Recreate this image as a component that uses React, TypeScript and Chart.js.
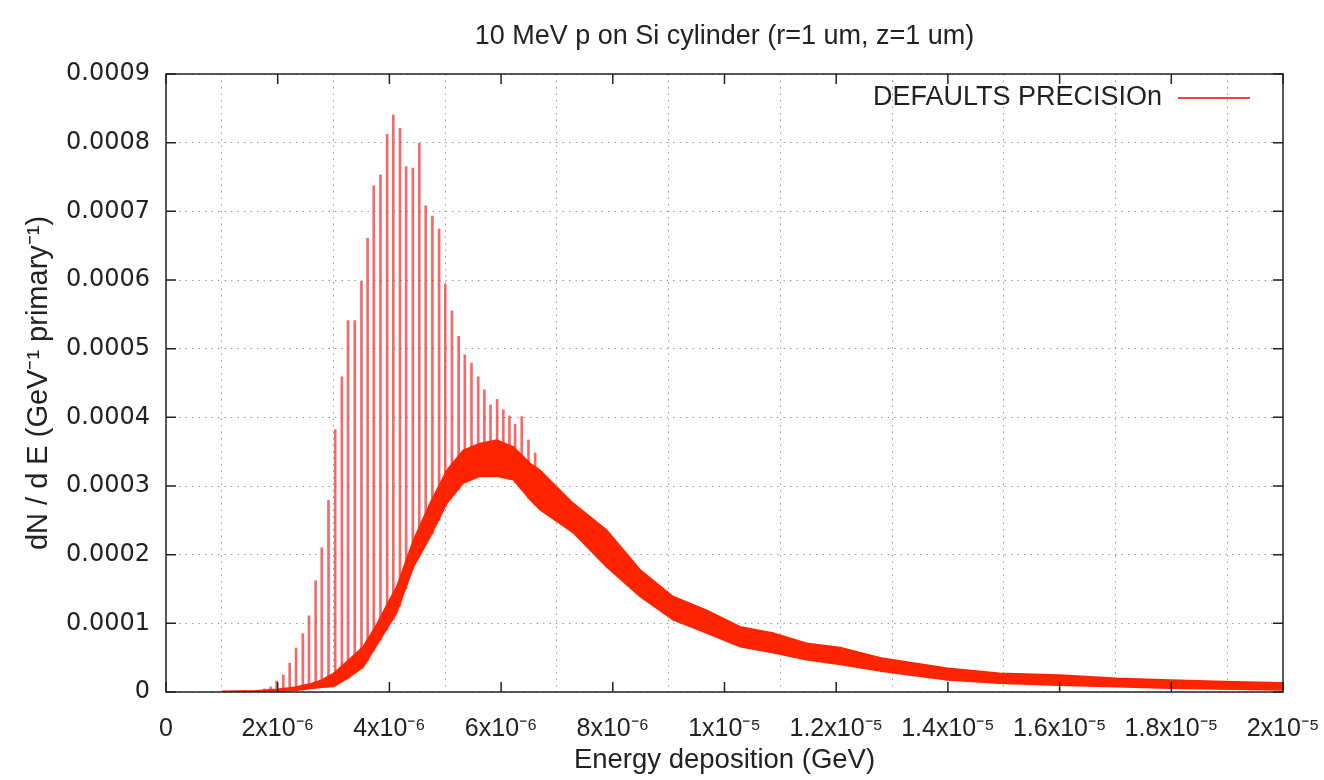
import React, { useEffect, useRef } from 'react';
import { Chart, registerables } from 'chart.js';

Chart.register(...registerables);

// ---------- text ----------
const chartTitle = '10 MeV p on Si cylinder (r=1 um, z=1 um)';
const seriesName = 'DEFAULTS PRECISIOn';
const xAxisTitle = 'Energy deposition (GeV)';
const yAxisTitle = 'dN / d E (GeV\u207B\u00B9 primary\u207B\u00B9)';

// ---------- ticks ----------
const xTickValues = [0, 2e-6, 4e-6, 6e-6, 8e-6, 1e-5, 1.2e-5, 1.4e-5, 1.6e-5, 1.8e-5, 2e-5];
const xTickLabels = [
  '0', '2x10\u207B\u2076', '4x10\u207B\u2076', '6x10\u207B\u2076', '8x10\u207B\u2076',
  '1x10\u207B\u2075', '1.2x10\u207B\u2075', '1.4x10\u207B\u2075', '1.6x10\u207B\u2075',
  '1.8x10\u207B\u2075', '2x10\u207B\u2075',
];
const yTickValues = [0, 0.0001, 0.0002, 0.0003, 0.0004, 0.0005, 0.0006, 0.0007, 0.0008, 0.0009];
const yTickLabels = ['0', '0.0001', '0.0002', '0.0003', '0.0004', '0.0005', '0.0006', '0.0007', '0.0008', '0.0009'];

// ---------- dense noisy body of the histogram (lower / upper envelope) ----------
const bandEnergy = [
  1.0e-6, 1.3e-6, 1.6e-6, 2.0e-6, 2.3e-6, 2.6e-6, 2.8e-6, 3.0e-6, 3.25e-6, 3.53e-6,
  3.75e-6, 4.0e-6, 4.13e-6, 4.43e-6, 4.73e-6, 5.03e-6, 5.32e-6, 5.62e-6, 5.92e-6, 6.22e-6,
  6.52e-6, 6.7e-6, 7.29e-6, 7.89e-6, 8.49e-6, 9.08e-6, 9.68e-6, 1.028e-5, 1.087e-5, 1.147e-5,
  1.207e-5, 1.284e-5, 1.4e-5, 1.493e-5, 1.6e-5, 1.702e-5, 1.798e-5, 1.911e-5, 2.0e-5,
];
const bandLow = [
  0, 0, 0, 0.5e-6, 2.0e-6, 5.0e-6, 7.0e-6, 8.0e-6, 2.0e-5, 3.6e-5,
  6.5e-5, 9.8e-5, 1.15e-4, 1.82e-4, 2.26e-4, 2.75e-4, 3.04e-4, 3.14e-4, 3.14e-4, 3.09e-4,
  2.80e-4, 2.65e-4, 2.32e-4, 1.82e-4, 1.39e-4, 1.05e-4, 8.6e-5, 6.6e-5, 5.7e-5, 4.7e-5,
  4.0e-5, 3.0e-5, 1.75e-5, 1.27e-5, 1.0e-5, 7.7e-6, 5.4e-6, 4.0e-6, 3.0e-6,
];
const bandHigh = [
  1.0e-6, 1.5e-6, 2.0e-6, 4.0e-6, 7.0e-6, 1.2e-5, 1.8e-5, 2.7e-5, 4.5e-5, 6.6e-5,
  9.5e-5, 1.34e-4, 1.53e-4, 2.21e-4, 2.75e-4, 3.23e-4, 3.52e-4, 3.62e-4, 3.67e-4, 3.57e-4,
  3.33e-4, 3.23e-4, 2.75e-4, 2.36e-4, 1.78e-4, 1.39e-4, 1.19e-4, 9.5e-5, 8.6e-5, 7.1e-5,
  6.5e-5, 4.9e-5, 3.45e-5, 2.72e-5, 2.48e-5, 2.0e-5, 1.75e-5, 1.5e-5, 1.35e-5,
];

// ---------- periodic spikes on the rising edge ----------
const spikeEnergy = [
  1.41e-6, 1.53e-6, 1.64e-6, 1.76e-6, 1.875e-6, 1.98e-6, 2.10e-6, 2.215e-6, 2.33e-6, 2.45e-6,
  2.56e-6, 2.68e-6, 2.79e-6, 2.91e-6, 3.03e-6, 3.15e-6, 3.26e-6, 3.38e-6, 3.50e-6, 3.61e-6,
  3.72e-6, 3.84e-6, 3.96e-6, 4.07e-6, 4.19e-6, 4.30e-6, 4.42e-6, 4.535e-6, 4.65e-6, 4.77e-6,
  4.89e-6, 5.00e-6, 5.12e-6, 5.24e-6, 5.35e-6, 5.47e-6, 5.59e-6, 5.70e-6, 5.81e-6, 5.93e-6,
  6.04e-6, 6.15e-6, 6.25e-6, 6.37e-6, 6.49e-6, 6.61e-6,
];
const spikeBase = [
  0, 0, 0, 0.2e-6, 0.3e-6, 0.5e-6, 1.0e-6, 1.5e-6, 2.0e-6, 3.5e-6,
  5.0e-6, 6.0e-6, 7.0e-6, 7.5e-6, 9.0e-6, 1.5e-5, 2.0e-5, 2.7e-5, 3.5e-5, 4.5e-5,
  6.0e-5, 7.5e-5, 9.0e-5, 1.05e-4, 1.25e-4, 1.5e-4, 1.8e-4, 2.0e-4, 2.15e-4, 2.3e-4,
  2.5e-4, 2.7e-4, 2.85e-4, 2.95e-4, 3.05e-4, 3.1e-4, 3.14e-4, 3.14e-4, 3.14e-4, 3.14e-4,
  3.12e-4, 3.1e-4, 3.05e-4, 2.95e-4, 2.82e-4, 2.72e-4,
];
const spikePeak = [
  2.0e-6, 1.0e-6, 2.0e-6, 4.4e-6, 7.3e-6, 1.6e-5, 2.5e-5, 4.2e-5, 6.4e-5, 8.5e-5,
  1.11e-4, 1.62e-4, 2.10e-4, 2.79e-4, 3.82e-4, 4.59e-4, 5.41e-4, 5.41e-4, 5.98e-4, 6.61e-4,
  7.37e-4, 7.53e-4, 8.12e-4, 8.40e-4, 8.21e-4, 7.65e-4, 7.63e-4, 7.99e-4, 7.08e-4, 6.93e-4,
  6.74e-4, 5.94e-4, 5.55e-4, 5.18e-4, 4.91e-4, 4.79e-4, 4.59e-4, 4.40e-4, 4.18e-4, 4.26e-4,
  4.11e-4, 4.02e-4, 3.90e-4, 4.01e-4, 3.67e-4, 3.48e-4,
];

const FONT = '"Liberation Sans", Arial, Helvetica, sans-serif';
const TICKFONT_Y = '"DejaVu Sans", "Liberation Sans", Arial, sans-serif';
const TEXT = '#222222';
const BAND = 'rgb(255,36,0)';
const SPIKE = 'rgba(240,55,55,0.75)';
const GRID = '#9a9a9a';

const gnuplotFrame = {
  id: 'gnuplotFrame',
  afterDatasetsDraw(chart: any) {
    const { ctx, chartArea } = chart;
    const { left, right, top, bottom } = chartArea;
    const xs = chart.scales.x;
    const ys = chart.scales.y;
    ctx.save();
    ctx.strokeStyle = TEXT;
    ctx.lineWidth = 1.5;
    ctx.strokeRect(left, top, right - left, bottom - top);
    const tl = 10;
    ctx.beginPath();
    xTickValues.forEach((v) => {
      const px = xs.getPixelForValue(v);
      ctx.moveTo(px, bottom);
      ctx.lineTo(px, bottom - tl);
      ctx.moveTo(px, top);
      ctx.lineTo(px, top + tl);
    });
    yTickValues.forEach((v) => {
      const py = ys.getPixelForValue(v);
      ctx.moveTo(left, py);
      ctx.lineTo(left + tl, py);
      ctx.moveTo(right, py);
      ctx.lineTo(right - tl, py);
    });
    ctx.stroke();

    // key (legend) inside the plot, top right, gnuplot style
    const ly = top + 24;
    ctx.font = `27px ${FONT}`;
    ctx.fillStyle = TEXT;
    ctx.textAlign = 'right';
    ctx.textBaseline = 'middle';
    ctx.fillText(seriesName, right - 121, ly);
    ctx.strokeStyle = 'rgb(238,70,70)';
    ctx.lineWidth = 2;
    ctx.beginPath();
    ctx.moveTo(right - 105, ly);
    ctx.lineTo(right - 33, ly);
    ctx.stroke();
    ctx.restore();
  },
};

export default function App() {
  const canvasRef = useRef<HTMLCanvasElement | null>(null);

  useEffect(() => {
    if (!canvasRef.current) return;
    Chart.defaults.font.family = FONT;
    Chart.defaults.color = TEXT;

    const chart = new Chart(canvasRef.current, {
      type: 'line',
      data: {
        datasets: [
          {
            type: 'bar',
            label: seriesName,
            data: spikeEnergy.map((x, i) => ({ x, y: [spikeBase[i], spikePeak[i]] })) as any,
            backgroundColor: SPIKE,
            borderWidth: 0,
            barThickness: 2,
            grouped: false,
            order: 3,
          } as any,
          {
            type: 'line',
            label: seriesName + ' (low)',
            data: bandEnergy.map((x, i) => ({ x, y: bandLow[i] })),
            borderColor: BAND,
            borderWidth: 1.5,
            pointRadius: 0,
            fill: false,
            tension: 0,
            order: 2,
          },
          {
            type: 'line',
            label: seriesName + ' (high)',
            data: bandEnergy.map((x, i) => ({ x, y: bandHigh[i] })),
            borderColor: BAND,
            backgroundColor: BAND,
            borderWidth: 1.5,
            pointRadius: 0,
            fill: '-1',
            tension: 0,
            order: 1,
          },
        ],
      },
      options: {
        animation: false,
        responsive: false,
        maintainAspectRatio: false,
        layout: { padding: { left: 0, right: 41, top: 0, bottom: 0 }, autoPadding: false } as any,
        plugins: {
          legend: { display: false },
          tooltip: { enabled: false },
          title: {
            display: true,
            text: chartTitle,
            fullSize: false,
            color: TEXT,
            font: { size: 27, weight: 'normal', family: FONT, lineHeight: 1.2 },
            padding: { top: 20, bottom: 21.6 },
          },
        },
        scales: {
          x: {
            type: 'linear',
            min: 0,
            max: 2e-5,
            offset: false,
            afterBuildTicks: (s: any) => {
              s.ticks = xTickValues.map((v) => ({ value: v }));
            },
            afterFit: (s: any) => {
              s.height = 88;
              s.paddingLeft = 0;
              s.paddingRight = 0;
            },
            ticks: {
              callback: (_v: any, i: number) => xTickLabels[i],
              padding: 22,
              autoSkip: false,
              maxRotation: 0,
              color: TEXT,
              font: { size: 25, family: FONT },
            },
            grid: { color: GRID, lineWidth: 1, drawTicks: false },
            border: { display: false, dash: [1.5, 5] },
            title: {
              display: true,
              text: xAxisTitle,
              color: TEXT,
              font: { size: 27.5, family: FONT },
              padding: { top: 0, bottom: 3 },
            },
          },
          y: {
            type: 'linear',
            min: 0,
            max: 0.0009,
            afterBuildTicks: (s: any) => {
              s.ticks = yTickValues.map((v) => ({ value: v }));
            },
            afterFit: (s: any) => {
              s.width = 166;
              s.paddingTop = 0;
              s.paddingBottom = 0;
            },
            ticks: {
              callback: (_v: any, i: number) => yTickLabels[i],
              padding: 16,
              autoSkip: false,
              color: TEXT,
              font: { size: 24, family: TICKFONT_Y },
            },
            grid: { color: GRID, lineWidth: 1, drawTicks: false },
            border: { display: false, dash: [1.5, 5] },
            title: {
              display: true,
              text: yAxisTitle,
              color: TEXT,
              font: { size: 29, family: FONT },
              padding: { top: 22, bottom: 0 },
            },
          },
        },
      },
      plugins: [gnuplotFrame],
    });

    return () => chart.destroy();
  }, []);

  return (
    <div style={{ position: 'fixed', left: 0, top: 0, width: 1324, height: 780, background: '#fff' }}>
      <canvas ref={canvasRef} width={1324} height={780} style={{ display: 'block' }} />
    </div>
  );
}
